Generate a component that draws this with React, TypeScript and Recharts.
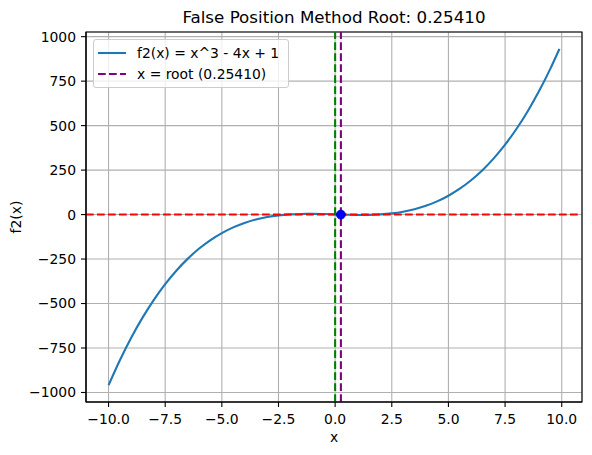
import {
  CartesianGrid,
  ComposedChart,
  Label,
  Legend,
  Line,
  ReferenceArea,
  ReferenceLine,
  Scatter,
  XAxis,
  YAxis,
} from "recharts"

// curve samples of f2(x) = x^3 - 4x + 1
const xs = [
  -10, -9.5, -9, -8.5, -8, -7.5, -7, -6.5, -6, -5.5, -5, -4.5, -4, -3.5, -3, -2.5, -2, -1.5, -1, -0.5,
  0, 0.5, 1, 1.5, 2, 2.5, 3, 3.5, 4, 4.5, 5, 5.5, 6, 6.5, 7, 7.5, 8, 8.5, 9, 9.5, 9.9,
]
const ys = [
  -959, -818.4, -692, -579.1, -479, -390.9, -314, -247.6, -191, -143.4, -104, -72.1, -47, -27.9, -14, -4.6, 1, 3.6, 4, 2.9,
  1, -0.9, -2, -1.6, 1, 6.6, 16, 29.9, 49, 74.1, 106, 145.4, 193, 249.6, 316, 392.9, 481, 581.1, 694, 820.4, 931.7,
]
const root = 0.2541
const rootPoint = [{ x: root, y: 0 }]
const xTicks = [-10, -7.5, -5, -2.5, 0, 2.5, 5, 7.5, 10]
const yTicks = [-1000, -750, -500, -250, 0, 250, 500, 750, 1000]
const xDomain = [-10.995, 10.895]
const yDomain = [-1053.5, 1026.2]

const curve = xs.map((x, i) => ({ x, y: ys[i] }))

const FONT = "'DejaVu Sans', sans-serif"
const DASH = "7.7 3.3"
const minus = (s: string) => s.replace("-", "\u2212")

function LegendBox() {
  return (
    <div
      style={{
        fontFamily: FONT,
        fontSize: 13.9,
        color: "#000",
        background: "rgba(255,255,255,0.8)",
        border: "1px solid #cccccc",
        borderRadius: 3,
        padding: "3px 9px 3px 4px",
        lineHeight: "20.6px",
      }}
    >
      <div style={{ display: "flex", alignItems: "center", whiteSpace: "nowrap" }}>
        <svg width={28} height={10} style={{ marginRight: 11 }}>
          <line x1={0} y1={5} x2={28} y2={5} stroke="#1f77b4" strokeWidth={2.1} />
        </svg>
        f2(x) = x^3 - 4x + 1
      </div>
      <div style={{ display: "flex", alignItems: "center", whiteSpace: "nowrap" }}>
        <svg width={28} height={10} style={{ marginRight: 11 }}>
          <line x1={0} y1={5} x2={28} y2={5} stroke="#800080" strokeWidth={2.1} strokeDasharray={DASH} />
        </svg>
        x = root (0.25410)
      </div>
    </div>
  )
}

export default function App() {
  return (
    <div style={{ position: "absolute", left: 0, top: 0, width: 592, height: 455, background: "#fff" }}>
      <ComposedChart width={592} height={455} margin={{ top: 32, right: 10, bottom: 13, left: 0 }}>
        <CartesianGrid stroke="#b0b0b0" strokeWidth={1.1} />
        <XAxis
          dataKey="x"
          type="number"
          domain={xDomain}
          ticks={xTicks}
          allowDataOverflow
          height={40}
          tickSize={5}
          tickMargin={7}
          tickLine={{ stroke: "#000", strokeWidth: 1.1 }}
          axisLine={{ stroke: "#000", strokeWidth: 1.1 }}
          tick={{ fill: "#000", fontSize: 13.9, fontFamily: FONT }}
          tickFormatter={(v: number) => minus(v.toFixed(1))}
        >
          <Label
            content={() => (
              <text x={334} y={442} textAnchor="middle" fontSize={13.9} fontFamily={FONT} fill="#000">
                x
              </text>
            )}
          />
          <Label
            content={() => (
              <text x={334} y={23} textAnchor="middle" fontSize={16.7} fontFamily={FONT} fill="#000">
                False Position Method Root: 0.25410
              </text>
            )}
          />
        </XAxis>
        <YAxis
          type="number"
          domain={yDomain}
          ticks={yTicks}
          allowDataOverflow
          width={86}
          tickSize={5}
          tickMargin={5}
          tickLine={{ stroke: "#000", strokeWidth: 1.1 }}
          axisLine={{ stroke: "#000", strokeWidth: 1.1 }}
          tick={{ fill: "#000", fontSize: 13.9, fontFamily: FONT }}
          tickFormatter={(v: number) => minus(String(v))}
        >
          <Label
            content={() => (
              <text
                x={21}
                y={217}
                transform="rotate(-90 21 217)"
                textAnchor="middle"
                fontSize={13.9}
                fontFamily={FONT}
                fill="#000"
              >
                f2(x)
              </text>
            )}
          />
        </YAxis>
        <ReferenceArea
          x1={xDomain[0]}
          x2={xDomain[1]}
          y1={yDomain[0]}
          y2={yDomain[1]}
          fill="none"
          stroke="#000"
          strokeWidth={1.1}
          ifOverflow="visible"
        />
        <Line
          data={curve}
          dataKey="y"
          type="monotone"
          stroke="#1f77b4"
          strokeWidth={2.1}
          dot={false}
          isAnimationActive={false}
        />
        <ReferenceLine y={0} stroke="#ff0000" strokeWidth={2.1} strokeDasharray={DASH} />
        <ReferenceLine x={0} stroke="#008000" strokeWidth={2.1} strokeDasharray={DASH} />
        <ReferenceLine x={root} stroke="#800080" strokeWidth={2.1} strokeDasharray={DASH} />
        <Scatter
          data={rootPoint}
          dataKey="y"
          isAnimationActive={false}
          shape={(p: any) => <circle cx={p.cx} cy={p.cy} r={4.4} fill="#0000ff" stroke="#0000cc" />}
        />
        <Legend
          layout="horizontal"
          verticalAlign="middle"
          align="center"
          wrapperStyle={{ top: 39, left: 93, width: "auto" }}
          content={() => <LegendBox />}
        />
      </ComposedChart>
    </div>
  )
}
